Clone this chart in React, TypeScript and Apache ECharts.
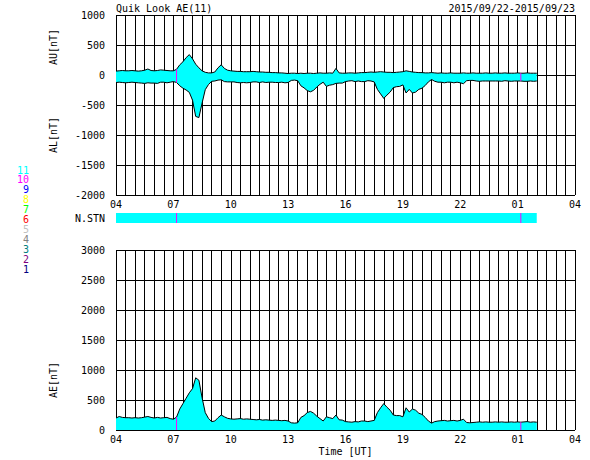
import React, { useEffect, useRef } from "react";
import * as echarts from "echarts";

// 10-minute samples from 04:00 (day 1) to 02:00 (day 2)
const startLabel = "04:00";
const stepMinutes = 10;
const xTickLabels = ["04", "07", "10", "13", "16", "19", "22", "01", "04"];

const auValues = [
  65, 70, 75, 70, 70, 75,
  70, 65, 70, 80, 100, 75,
  70, 75, 85, 80, 75, 70,
  70, 95, 170, 220, 290, 340,
  270, 180, 120, 70, 45, 35,
  35, 50, 120, 170, 110, 80,
  70, 65, 60, 60, 55, 55,
  55, 60, 55, 50, 50, 45,
  45, 40, 40, 35, 35, 30,
  25, 30, 30, 25, 30, 25,
  30, 30, 25, 30, 35, 30,
  30, 35, 30, 110, 35, 30,
  30, 35, 35, 30, 35, 40,
  40, 45, 50, 45, 50, 55,
  50, 45, 45, 40, 45, 50,
  55, 70, 60, 50, 45, 40,
  40, 35, 35, 40, 35, 30,
  35, 30, 30, 35, 30, 30,
  30, 35, 30, 30, 35, 30,
  30, 30, 35, 30, 30, 35,
  30, 30, 35, 30, 30, 30,
  35, 30, 30, 35, 30, 30,
  30,
];

const alValues = [
  -125, -120, -125, -130, -125, -120,
  -125, -130, -135, -140, -130, -135,
  -135, -140, -120, -120, -130, -120,
  -110, -125, -180, -220, -250, -290,
  -420, -690, -710, -470, -245, -160,
  -105, -100, -85, -80, -110, -115,
  -115, -115, -125, -130, -125, -130,
  -125, -115, -115, -125, -115, -125,
  -120, -120, -125, -125, -120, -130,
  -125, -90, -85, -95, -180, -215,
  -260, -280, -255, -200, -155, -120,
  -190, -170, -160, -140, -135, -135,
  -110, -100, -95, -110, -100, -110,
  -110, -95, -100, -115, -240, -315,
  -390, -335, -285, -210, -195, -190,
  -165, -300, -240, -300, -285, -240,
  -220, -175, -115, -75, -105, -120,
  -120, -130, -120, -120, -130, -120,
  -130, -145, -95, -90, -90, -100,
  -105, -100, -100, -100, -100, -100,
  -100, -105, -95, -100, -105, -100,
  -100, -100, -105, -105, -100, -105,
  -100,
];

const aeValues = [
  200, 225, 210, 205, 205, 200,
  205, 200, 205, 215, 225, 210,
  200, 210, 200, 205, 210, 190,
  180, 215, 350, 440, 530, 620,
  690, 870, 830, 540, 290, 195,
  140, 150, 205, 250, 220, 195,
  185, 180, 185, 190, 180, 185,
  180, 175, 170, 175, 165, 170,
  165, 160, 165, 160, 155, 160,
  150, 120, 115, 120, 210, 240,
  290, 310, 280, 230, 190, 150,
  220, 205, 190, 250, 170, 165,
  140, 135, 130, 140, 135, 150,
  150, 140, 150, 160, 290, 370,
  440, 380, 330, 250, 240, 240,
  220, 370, 300, 350, 330, 280,
  260, 210, 150, 115, 140, 150,
  155, 160, 150, 155, 160, 150,
  160, 180, 125, 120, 125, 130,
  135, 130, 135, 130, 130, 135,
  130, 135, 130, 130, 135, 130,
  135, 130, 135, 140, 130, 135,
  130,
];

// times when only 10 stations were available
const tenStationTimes = ["07:10", "01:10"];

const stationLabels = ["11", "10", "9", "8", "7", "6", "5", "4", "3", "2", "1"];
const stationColors = [
  "#00ffff", "#ff00ff", "#0000ff", "#ffff00", "#00ff00", "#ff0000",
  "#c0c0c0", "#808080", "#008080", "#800080", "#000080",
];

const FONT = '10px "DejaVu Sans Mono", "Liberation Mono", monospace';

function toHours(label: string): number {
  const [h, m] = label.split(":").map(Number);
  const [sh, sm] = startLabel.split(":").map(Number);
  return ((h - sh + 24) % 24) + (m - sm) / 60;
}

export default function App() {
  const ref = useRef<HTMLDivElement>(null);

  useEffect(() => {
    if (!ref.current) return;
    const chart = echarts.init(ref.current, undefined, { renderer: "svg" });

    const hrs = auValues.map((_, i) => (i * stepMinutes) / 60);
    const au = auValues.map((v, i) => [hrs[i], v]);
    const al = alValues.map((v, i) => [hrs[i], v]);
    const ae = aeValues.map((v, i) => [hrs[i], v]);
    const endH = hrs[hrs.length - 1];

    const tenIdx = tenStationTimes.map((t) => Math.round((toHours(t) * 60) / stepMinutes));

    const xLabelFmt = (v: number) => {
      const r = Math.round(v * 2) / 2;
      if (r % 3 !== 0) return "";
      return xTickLabels[r / 3] ?? "";
    };

    const splitBlack = { show: true, lineStyle: { color: "#000", width: 1 } };
    const baseX = (gridIndex: number, showLabels: boolean) => ({
      type: "value",
      gridIndex,
      min: 0,
      max: 24,
      interval: 0.5,
      axisLine: { show: false },
      axisTick: { show: false },
      splitLine: gridIndex !== 1 ? splitBlack : { show: false },
      axisLabel: {
        show: showLabels,
        formatter: xLabelFmt,
        color: "#000",
        fontFamily: '"DejaVu Sans Mono"',
        fontSize: 10,
        margin: 4,
      },
    });

    const lineBase = {
      type: "line",
      showSymbol: false,
      symbol: "none",
      lineStyle: { color: "#000", width: 1 },
      itemStyle: { color: "#000" },
      areaStyle: { color: "#00ffff", opacity: 1, origin: 0 },
      z: 2,
    };

    const magentaSeries: any[] = [];
    tenIdx.forEach((i) => {
      const h = hrs[i];
      magentaSeries.push({
        type: "line", xAxisIndex: 0, yAxisIndex: 0, showSymbol: false, symbol: "none", z: 4,
        lineStyle: { color: "#ff00ff", width: 1 },
        data: [[h, alValues[i]], [h, auValues[i]]],
      });
      magentaSeries.push({
        type: "line", xAxisIndex: 2, yAxisIndex: 2, showSymbol: false, symbol: "none", z: 4,
        lineStyle: { color: "#ff00ff", width: 1 },
        data: [[h, 0], [h, aeValues[i]]],
      });
      magentaSeries.push({
        type: "line", xAxisIndex: 1, yAxisIndex: 1, showSymbol: false, symbol: "none", z: 4,
        lineStyle: { color: "#ff00ff", width: 1 },
        data: [[h, 0], [h, 1]],
      });
    });

    const graphics: any[] = [
      {
        type: "text", x: 116, y: 8,
        style: { text: "Quik Look AE(11)", font: FONT, fill: "#000", align: "left", verticalAlign: "middle", textAlign: "left", textVerticalAlign: "middle" },
      },
      {
        type: "text", x: 575, y: 8,
        style: { text: "2015/09/22-2015/09/23", font: FONT, fill: "#000", align: "right", verticalAlign: "middle", textAlign: "right", textVerticalAlign: "middle" },
      },
      ...[["AU[nT]", 47], ["AL[nT]", 135], ["AE[nT]", 380]].map(([t, y]) => ({
        type: "text", x: 53, y: y as number, rotation: Math.PI / 2,
        style: { text: t as string, font: FONT, fill: "#000", align: "center", verticalAlign: "middle", textAlign: "center", textVerticalAlign: "middle" },
      })),
      {
        type: "text", x: 105, y: 218,
        style: { text: "N.STN", font: FONT, fill: "#000", align: "right", verticalAlign: "middle", textAlign: "right", textVerticalAlign: "middle" },
      },
      {
        type: "text", x: 345.5, y: 451,
        style: { text: "Time [UT]", font: FONT, fill: "#000", align: "center", verticalAlign: "middle", textAlign: "center", textVerticalAlign: "middle" },
      },
      ...stationLabels.map((t, i) => ({
        type: "text", x: 29, y: 170 + i * 9.9,
        style: { text: t, font: FONT, fill: stationColors[i], align: "right", verticalAlign: "middle", textAlign: "right", textVerticalAlign: "middle" },
      })),
    ];

    const yLabel = {
      color: "#000", fontFamily: '"DejaVu Sans Mono"', fontSize: 10, margin: 11,
      formatter: (v: number) => String(v),
    };

    chart.setOption({
      animation: false,
      backgroundColor: "#fff",
      grid: [
        { left: 116, top: 15, width: 459, height: 180, outerBoundsMode: "none", containLabel: false },
        { left: 116, top: 213, width: 459, height: 10, outerBoundsMode: "none", containLabel: false },
        { left: 116, top: 250, width: 459, height: 180, outerBoundsMode: "none", containLabel: false },
      ],
      xAxis: [baseX(0, true), baseX(1, false), baseX(2, true)],
      yAxis: [
        {
          type: "value", gridIndex: 0, min: -2000, max: 1000, interval: 500,
          axisLine: { show: false }, axisTick: { show: false },
          splitLine: splitBlack, axisLabel: yLabel,
        },
        {
          type: "value", gridIndex: 1, min: 0, max: 1, show: false,
          splitLine: { show: false },
        },
        {
          type: "value", gridIndex: 2, min: 0, max: 3000, interval: 500,
          axisLine: { show: false }, axisTick: { show: false },
          splitLine: splitBlack, axisLabel: yLabel,
        },
      ],
      series: [
        { ...lineBase, name: "AU", xAxisIndex: 0, yAxisIndex: 0, data: au },
        { ...lineBase, name: "AL", xAxisIndex: 0, yAxisIndex: 0, data: al },
        {
          type: "line", name: "N.STN", xAxisIndex: 1, yAxisIndex: 1, showSymbol: false, symbol: "none",
          lineStyle: { width: 0 }, areaStyle: { color: "#00ffff", opacity: 1, origin: "start" },
          data: [[0, 1], [endH, 1]], z: 2,
        },
        { ...lineBase, name: "AE", xAxisIndex: 2, yAxisIndex: 2, data: ae },
        ...magentaSeries,
      ],
      graphic: graphics,
    });

    return () => chart.dispose();
  }, []);

  return (
    <div
      ref={ref}
      style={{ position: "fixed", left: 0, top: 0, width: 590, height: 460, background: "#fff" }}
    />
  );
}
